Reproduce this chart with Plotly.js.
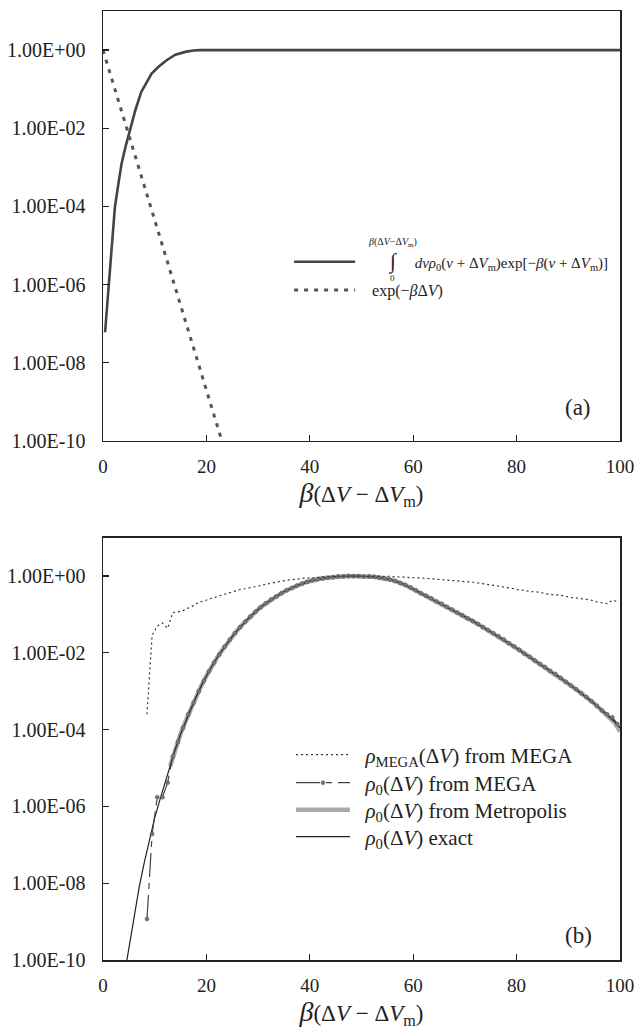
<!DOCTYPE html>
<html>
<head>
<meta charset="utf-8">
<script src="https://cdn.plot.ly/plotly-3.0.1.min.js"></script>
<style>html,body{margin:0;padding:0;background:#fff;}#chart{width:637px;height:1032px;}</style>
</head>
<body>
<div id="chart"></div>
<script>
// ---------- Panel (a) data ----------
const integralX = [0.4, 1, 1.5, 2.3, 3, 3.6, 4.4, 5.2, 6.3, 7.4, 8.4, 9.4, 10.8, 12.3, 14, 16.1, 17.5, 18.7, 100];
const integralLog10 = [-7.22, -6.15, -5.35, -4.02, -3.4, -2.9, -2.45, -2.05, -1.52, -1.07, -0.82, -0.6, -0.42, -0.26, -0.12, -0.04, -0.01, 0, 0];
const expX = [0, 5, 10, 15, 20, 23, 23.5];
const expY = [1, 6.7e-3, 4.5e-5, 3.0e-7, 2.0e-9, 1.0e-10, 6.0e-11];

// ---------- Panel (b) data ----------
const exactX = [4.5,5,6,7,8,9,10,11,12,13,14,15,16,17,18,19,20,21,22,23,24,25,26,27,28,29,30,31,32,33,34,35,36,37,38,39,40,41,42,43,44,45,46,47,48,49,50,51,52,53,54,55,56,57,58,59,60,61,62,63,64,65,66,67,68,69,70,71,72,73,74,75,76,77,78,79,80,81,82,83,84,85,86,87,88,89,90,91,92,93,94,95,96,97,98,99,100];
const exactLog10 = [-10.1,-9.7,-8.9,-8.1,-7.45,-6.85,-6.3,-5.83,-5.38,-4.9,-4.5,-4.12,-3.78,-3.45,-3.15,-2.86,-2.6,-2.36,-2.14,-1.94,-1.75,-1.57,-1.41,-1.26,-1.12,-0.99,-0.87,-0.76,-0.66,-0.57,-0.49,-0.41,-0.34,-0.28,-0.22,-0.17,-0.13,-0.1,-0.07,-0.05,-0.03,-0.02,-0.01,0,0,0,0,-0.01,-0.02,-0.03,-0.05,-0.08,-0.11,-0.15,-0.2,-0.27,-0.34,-0.41,-0.48,-0.55,-0.62,-0.69,-0.76,-0.83,-0.91,-0.98,-1.06,-1.13,-1.21,-1.29,-1.37,-1.45,-1.53,-1.61,-1.7,-1.79,-1.88,-1.97,-2.06,-2.15,-2.24,-2.33,-2.42,-2.51,-2.6,-2.7,-2.8,-2.9,-3.0,-3.1,-3.2,-3.32,-3.44,-3.56,-3.68,-3.8,-3.95];

const metroX = [13,14,15,16,17,18,19,20,21,22,23,24,25,26,27,28,29,30,31,32,33,34,35,36,37,38,39,40,41,42,43,44,45,46,47,48,49,50,51,52,53,54,55,56,57,58,59,60,61,62,63,64,65,66,67,68,69,70,71,72,73,74,75,76,77,78,79,80,81,82,83,84,85,86,87,88,89,90,91,92,93,94,95,96,97,98,99,100];
const metroLog10 = [-4.95,-4.5,-4.1,-3.77,-3.45,-3.15,-2.86,-2.6,-2.36,-2.14,-1.94,-1.75,-1.57,-1.41,-1.26,-1.12,-0.99,-0.87,-0.76,-0.66,-0.57,-0.49,-0.41,-0.34,-0.28,-0.22,-0.17,-0.13,-0.1,-0.07,-0.05,-0.03,-0.02,-0.01,0,0,0,0,-0.01,-0.02,-0.03,-0.05,-0.08,-0.11,-0.15,-0.2,-0.27,-0.34,-0.41,-0.48,-0.55,-0.62,-0.69,-0.76,-0.83,-0.91,-0.98,-1.06,-1.13,-1.21,-1.29,-1.37,-1.45,-1.53,-1.61,-1.7,-1.79,-1.88,-1.97,-2.06,-2.15,-2.24,-2.33,-2.42,-2.51,-2.6,-2.7,-2.8,-2.9,-3.0,-3.1,-3.2,-3.32,-3.44,-3.56,-3.68,-3.82,-4.05];

const megaX = [8.5,9.5,10.5,11.5,12.5,13.5,14.5,15.5,16.5,17.5,18.5,19.5,20.5,21.5,22.5,23.5,24.5,25.5,26.5,27.5,28.5,29.5,30.5,31.5,32.5,33.5,34.5,35.5,36.5,37.5,38.5,39.5,40.5,41.5,42.5,43.5,44.5,45.5,46.5,47.5,48.5,49.5,50.5,51.5,52.5,53.5,54.5,55.5,56.5,57.5,58.5,59.5,60.5,61.5,62.5,63.5,64.5,65.5,66.5,67.5,68.5,69.5,70.5,71.5,72.5,73.5,74.5,75.5,76.5,77.5,78.5,79.5,80.5,81.5,82.5,83.5,84.5,85.5,86.5,87.5,88.5,89.5,90.5,91.5,92.5,93.5,94.5,95.5,96.5,97.5,98.5,99.5];
const rho0MegaLog10 = [-8.93,-6.72,-5.76,-5.76,-5.38,-4.7,-4.32,-3.95,-3.6,-3.3,-3.0,-2.73,-2.48,-2.25,-2.04,-1.84,-1.66,-1.49,-1.33,-1.19,-1.05,-0.93,-0.81,-0.71,-0.61,-0.53,-0.45,-0.37,-0.31,-0.25,-0.2,-0.15,-0.11,-0.08,-0.06,-0.04,-0.03,-0.01,-0.01,0,0,0,-0.01,-0.01,-0.02,-0.04,-0.06,-0.09,-0.13,-0.18,-0.23,-0.3,-0.37,-0.45,-0.51,-0.58,-0.66,-0.72,-0.8,-0.87,-0.95,-1.02,-1.1,-1.17,-1.25,-1.33,-1.41,-1.49,-1.57,-1.65,-1.75,-1.83,-1.92,-2.02,-2.1,-2.2,-2.29,-2.37,-2.47,-2.55,-2.65,-2.75,-2.85,-2.95,-3.05,-3.15,-3.26,-3.38,-3.5,-3.6,-3.68,-3.85];
const rhoMegaLog10 = [-3.6,-1.54,-1.3,-1.22,-1.36,-0.95,-0.93,-0.9,-0.83,-0.77,-0.68,-0.65,-0.6,-0.56,-0.5,-0.47,-0.44,-0.4,-0.35,-0.33,-0.3,-0.27,-0.23,-0.2,-0.18,-0.16,-0.13,-0.11,-0.1,-0.08,-0.06,-0.05,-0.03,-0.02,-0.01,-0.01,0,0,0,0,0,0,0,0,-0.01,0,-0.01,-0.01,-0.02,-0.02,-0.03,-0.04,-0.04,-0.05,-0.06,-0.07,-0.08,-0.08,-0.1,-0.11,-0.12,-0.13,-0.15,-0.16,-0.18,-0.21,-0.22,-0.24,-0.26,-0.29,-0.3,-0.33,-0.36,-0.37,-0.4,-0.41,-0.42,-0.46,-0.48,-0.49,-0.5,-0.53,-0.56,-0.57,-0.59,-0.61,-0.63,-0.67,-0.7,-0.72,-0.63,-0.66];

// ---------- Axis labels and legend texts ----------
const xTickVals = [0, 20, 40, 60, 80, 100];
const xTickText = ['0', '20', '40', '60', '80', '100'];
const yTickVals = [1e-10, 1e-8, 1e-6, 1e-4, 1e-2, 1];
const yTickText = ['1.00E-10', '1.00E-08', '1.00E-06', '1.00E-04', '1.00E-02', '1.00E+00'];
const xTitle = '<span style="font-size:28px"><i>β</i></span>(Δ<i>V</i> − Δ<i>V</i><sub>m</sub>)';
const NB = '\u00A0';
const legendA = [
  NB.repeat(8) + '<span style="font-size:21px">∫</span>' + NB.repeat(5) + '<i>dvρ</i><sub>0</sub>(<i>v</i> + Δ<i>V</i><sub>m</sub>)exp[−<i>β</i>(<i>v</i> + Δ<i>V</i><sub>m</sub>)]',
  NB.repeat(3) + 'exp(−<i>β</i>Δ<i>V</i>)'
];
const legendB = [
  NB.repeat(2) + '<i>ρ</i><sub>MEGA</sub>(Δ<i>V</i>) from MEGA',
  NB.repeat(2) + '<i>ρ</i><sub>0</sub>(Δ<i>V</i>) from MEGA',
  NB.repeat(2) + '<i>ρ</i><sub>0</sub>(Δ<i>V</i>) from Metropolis',
  NB.repeat(2) + '<i>ρ</i><sub>0</sub>(Δ<i>V</i>) exact'
];
const integralUpper = '<i>β</i>(Δ<i>V</i>−Δ<i>V</i><sub>m</sub>)';
const integralLower = '0';

const pow10 = arr => arr.map(v => Math.pow(10, v));
const FONT = '"Liberation Serif", "Times New Roman", Times, serif';

const traces = [
  {x: integralX, y: pow10(integralLog10), xaxis: 'x', yaxis: 'y', mode: 'lines', name: legendA[0],
   line: {color: '#444', width: 2.6}, legend: 'legend'},
  {x: expX, y: expY, xaxis: 'x', yaxis: 'y', mode: 'lines', name: legendA[1],
   line: {color: '#555', width: 3, dash: '4px,6px'}, legend: 'legend3'},

  {x: metroX, y: pow10(metroLog10), xaxis: 'x2', yaxis: 'y2', mode: 'lines', name: legendB[2],
   line: {color: '#aaaaaa', width: 4.5}, legend: 'legend5'},
  {x: exactX, y: pow10(exactLog10), xaxis: 'x2', yaxis: 'y2', mode: 'lines', name: legendB[3],
   line: {color: '#222', width: 1.2}, legend: 'legend6'},
  {x: megaX, y: pow10(rho0MegaLog10), xaxis: 'x2', yaxis: 'y2', mode: 'lines+markers', name: legendB[1],
   line: {color: '#444', width: 1.2, dash: '24px,6px,6px,6px'}, marker: {color: '#777', size: 4, line: {color: '#555', width: 0.5}},
   legend: 'legend4'},
  {x: megaX, y: pow10(rhoMegaLog10), xaxis: 'x2', yaxis: 'y2', mode: 'lines', name: legendB[0],
   line: {color: '#333', width: 1.2, dash: '2px,3px'}, legend: 'legend2'}
];

const xAxisCommon = {
  range: [0, 100], tickmode: 'array', tickvals: xTickVals, ticktext: xTickText,
  ticks: 'inside', ticklen: 6, tickwidth: 1.2, tickcolor: '#222',
  showline: true, linecolor: '#222', linewidth: 1.5, mirror: true, showgrid: false, zeroline: false,
  tickfont: {family: FONT, size: 19, color: '#222'}, ticklabelstandoff: 8,
  title: {text: xTitle, font: {family: FONT, size: 23, color: '#222'}, standoff: 5}
};
const yAxisCommon = {
  type: 'log', range: [-10, 1], tickmode: 'array', tickvals: yTickVals, ticktext: yTickText,
  ticks: 'inside', ticklen: 6, tickwidth: 1.2, tickcolor: '#222',
  showline: true, linecolor: '#222', linewidth: 1.5, mirror: true, showgrid: false, zeroline: false,
  tickfont: {family: FONT, size: 20, color: '#222'}, ticklabelstandoff: 12
};

function legendAt(x, yPx, size, itemwidth) {
  return {x: x, y: (960 - yPx) / 949, xanchor: 'left', yanchor: 'middle', bgcolor: 'rgba(0,0,0,0)',
          font: {family: FONT, size: size, color: '#222'}, itemwidth: itemwidth, tracegroupgap: 0};
}

const layout = {
  width: 637, height: 1032,
  margin: {l: 103, r: 17, t: 11, b: 72},
  paper_bgcolor: '#fff', plot_bgcolor: '#fff',
  font: {family: FONT, color: '#222'},
  showlegend: true,
  xaxis: Object.assign({}, xAxisCommon, {anchor: 'y'}),
  yaxis: Object.assign({}, yAxisCommon, {domain: [0.547, 1], anchor: 'x'}),
  xaxis2: Object.assign({}, xAxisCommon, {anchor: 'y2'}),
  yaxis2: Object.assign({}, yAxisCommon, {domain: [0, 0.445], anchor: 'x2'}),
  legend: legendAt(0.36, 262, 15, 61),
  legend3: legendAt(0.36, 290, 16, 61),
  legend2: legendAt(0.3636, 755, 21, 54),
  legend4: legendAt(0.3636, 783, 21, 54),
  legend5: legendAt(0.3636, 810, 21, 54),
  legend6: legendAt(0.3636, 837, 21, 54),
  annotations: [
    {xref: 'paper', yref: 'paper', x: 0.5609, y: (960 - 242) / 949, text: integralUpper, showarrow: false,
     font: {family: FONT, size: 10, color: '#222'}, xanchor: 'center', yanchor: 'middle'},
    {xref: 'paper', yref: 'paper', x: 0.5609, y: (960 - 278) / 949, text: integralLower, showarrow: false,
     font: {family: FONT, size: 9, color: '#222'}, xanchor: 'center', yanchor: 'middle'},
    {xref: 'paper', yref: 'paper', x: 0.919, y: 0.5817, text: '(a)', showarrow: false,
     font: {family: FONT, size: 23, color: '#222'}, xanchor: 'center', yanchor: 'middle'},
    {xref: 'paper', yref: 'paper', x: 0.919, y: 0.0253, text: '(b)', showarrow: false,
     font: {family: FONT, size: 23, color: '#222'}, xanchor: 'center', yanchor: 'middle'}
  ]
};

Plotly.newPlot('chart', traces, layout, {staticPlot: true, displayModeBar: false});
</script>
</body>
</html>
